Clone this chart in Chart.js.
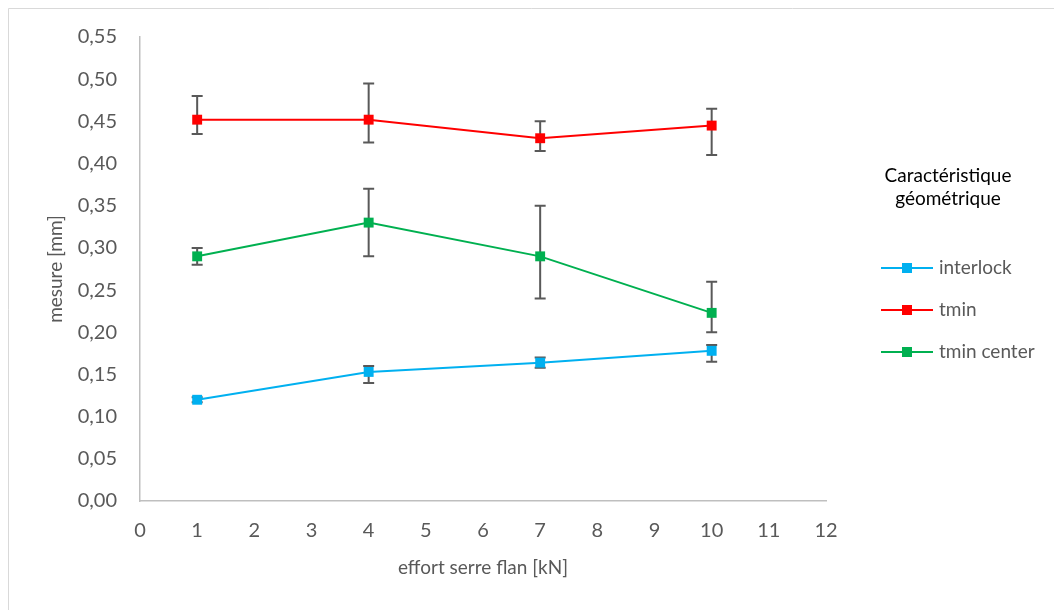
<!DOCTYPE html>
<html>
<head>
<meta charset="utf-8">
<script src="https://cdn.jsdelivr.net/npm/chart.js@4"></script>
<style>
  html, body { margin: 0; padding: 0; background: #fff; }
  #wrap { width: 1054px; height: 610px; }
</style>
</head>
<body>
<div id="wrap"><canvas id="chart1" width="1054" height="610"></canvas></div>
<script>

// DATA

let efforts = [1, 4, 7, 10];
let xTicks = [0, 1, 2, 3, 4, 5, 6, 7, 8, 9, 10, 11, 12];
let yTicks = [0, 0.05, 0.10, 0.15, 0.20, 0.25, 0.30, 0.35, 0.40, 0.45, 0.50, 0.55];

let interlock = [0.120, 0.153, 0.164, 0.178];
let interlockHigh = [0.123, 0.160, 0.170, 0.185];
let interlockLow = [0.117, 0.140, 0.158, 0.165];

let tmin = [0.452, 0.452, 0.430, 0.445];
let tminHigh = [0.480, 0.495, 0.450, 0.465];
let tminLow = [0.435, 0.425, 0.415, 0.410];

let tminCenter = [0.290, 0.330, 0.290, 0.223];
let tminCenterHigh = [0.300, 0.370, 0.350, 0.260];
let tminCenterLow = [0.280, 0.290, 0.240, 0.200];

let seriesNames = ["interlock", "tmin", "tmin center"];
let legendTitle = ["Caractéristique", "géométrique"];


let fontName = "Lato, 'Noto Sans', sans-serif";
let grey = "#595959";

function toPoints(xs, ys){
	let pts = [];
	for (let i = 0; i < xs.length; i++){
		pts.push({x: xs[i], y: ys[i]});
	}
	return pts;
}

function makeSet(label, values, high, low, color){
	return {
		label: label,
		data: toPoints(efforts, values),
		errHigh: high,
		errLow: low,
		borderColor: color,
		backgroundColor: color,
		borderWidth: 2,
		pointStyle: 'rect',
		pointRadius: 7,
		pointHoverRadius: 7,
		pointBorderWidth: 0,
		tension: 0
	};
}


// ERROR BARS, OUTER FRAME AND LEGEND

let errorBars = {
	id: 'errorBars',
	beforeDatasetsDraw: function(chart){
		let ctx = chart.ctx;
		let xs = chart.scales.x;
		let ys = chart.scales.y;
		ctx.save();
		ctx.strokeStyle = grey;
		ctx.lineWidth = 2;
		chart.data.datasets.forEach(function(ds){
			for (let i = 0; i < ds.data.length; i++){
				let px = xs.getPixelForValue(ds.data[i].x);
				let top = ys.getPixelForValue(ds.errHigh[i]);
				let bot = ys.getPixelForValue(ds.errLow[i]);
				ctx.beginPath();
				ctx.moveTo(px, top);
				ctx.lineTo(px, bot);
				ctx.moveTo(px - 5.5, top);
				ctx.lineTo(px + 5.5, top);
				ctx.moveTo(px - 5.5, bot);
				ctx.lineTo(px + 5.5, bot);
				ctx.stroke();
			}
		});
		ctx.restore();
	}
};

let frameAndLegend = {
	id: 'frameAndLegend',
	beforeDraw: function(chart){
		let ctx = chart.ctx;
		ctx.save();
		ctx.fillStyle = '#fff';
		ctx.fillRect(0, 0, chart.width, chart.height);
		ctx.strokeStyle = '#d9d9d9';
		ctx.lineWidth = 1;
		ctx.beginPath();
		ctx.moveTo(8.5, chart.height);
		ctx.lineTo(8.5, 8.5);
		ctx.lineTo(chart.width, 8.5);
		ctx.stroke();
		ctx.restore();
	},
	afterDraw: function(chart){
		let ctx = chart.ctx;
		ctx.save();
		ctx.font = "19px " + fontName;
		ctx.fillStyle = '#000';
		ctx.textAlign = 'center';
		ctx.textBaseline = 'alphabetic';
		ctx.fillText(legendTitle[0], 948, 182);
		ctx.fillText(legendTitle[1], 948, 205);

		let rowY = [268, 310, 352];
		ctx.textAlign = 'left';
		ctx.textBaseline = 'middle';
		chart.data.datasets.forEach(function(ds, i){
			let y = rowY[i];
			ctx.strokeStyle = ds.borderColor;
			ctx.lineWidth = 2;
			ctx.beginPath();
			ctx.moveTo(881, y);
			ctx.lineTo(933, y);
			ctx.stroke();
			ctx.fillStyle = ds.backgroundColor;
			ctx.fillRect(902, y - 5, 10, 10);
			ctx.fillStyle = grey;
			ctx.fillText(ds.label, 939, y);
		});
		ctx.restore();
	}
};


// THE CHART

let ctx1 = document.getElementById("chart1");

let myChart1 = new Chart(ctx1, {
	type: 'line',
	data: {
		datasets: [
			makeSet(seriesNames[0], interlock, interlockHigh, interlockLow, '#00B0F0'),
			makeSet(seriesNames[1], tmin, tminHigh, tminLow, '#FF0000'),
			makeSet(seriesNames[2], tminCenter, tminCenterHigh, tminCenterLow, '#00B050')
		]
	},
	options: {
		responsive: false,
		animation: false,
		layout: {
			padding: {left: 0, top: 37, right: 228, bottom: 0}
		},
		plugins: {
			legend: {display: false},
			tooltip: {enabled: false}
		},
		scales: {
			x: {
				type: 'linear',
				min: xTicks[0],
				max: xTicks[xTicks.length - 1],
				afterBuildTicks: function(scale){
					scale.ticks = xTicks.map(function(v){ return {value: v}; });
				},
				afterFit: function(scale){ scale.height = 109; },
				grid: {display: false, drawTicks: false},
				border: {display: true, color: '#bfbfbf', width: 1.5},
				ticks: {
					padding: 18,
					color: grey,
					font: {family: fontName, size: 20},
					callback: function(v){ return String(v); }
				},
				title: {
					display: true,
					text: 'effort serre flan [kN]',
					color: grey,
					font: {family: fontName, size: 19},
					padding: {top: 0, bottom: 31}
				}
			},
			y: {
				min: yTicks[0],
				max: yTicks[yTicks.length - 1],
				afterBuildTicks: function(scale){
					scale.ticks = yTicks.map(function(v){ return {value: v}; });
				},
				afterFit: function(scale){ scale.width = 140; },
				grid: {display: false, drawTicks: false},
				border: {display: true, color: '#bfbfbf', width: 1.5},
				ticks: {
					padding: 23,
					color: grey,
					font: {family: fontName, size: 20},
					callback: function(v){ return v.toFixed(2).replace('.', ','); }
				},
				title: {
					display: true,
					text: 'mesure [mm]',
					color: grey,
					font: {family: fontName, size: 19},
					padding: {top: 44, bottom: 0}
				}
			}
		}
	},
	plugins: [errorBars, frameAndLegend]
});

</script>
</body>
</html>
